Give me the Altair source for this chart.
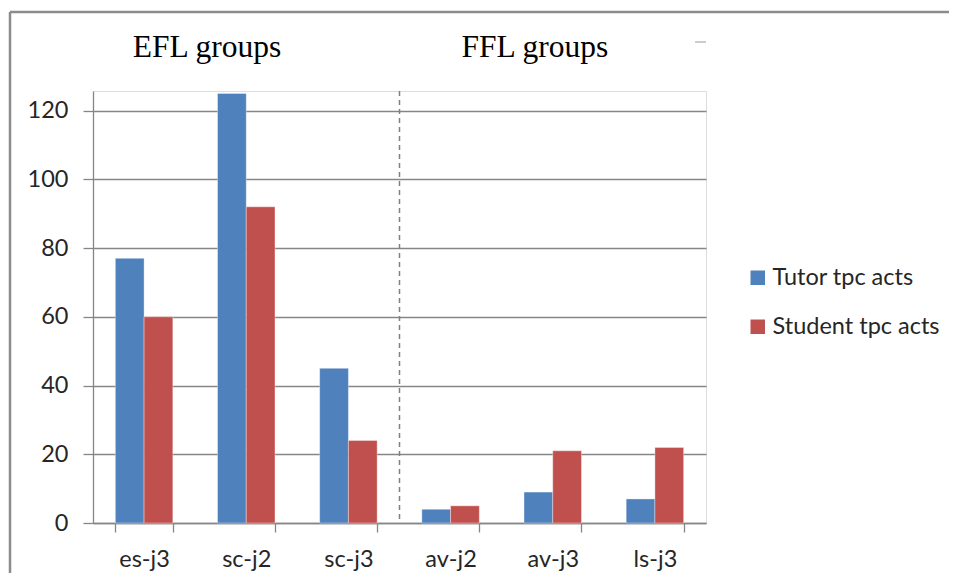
import altair as alt
import pandas as pd

categories = ["es-j3", "sc-j2", "sc-j3", "av-j2", "av-j3", "ls-j3"]
series_names = ["Tutor tpc acts", "Student tpc acts"]
tutor_values = [77, 125, 45, 4, 9, 7]
student_values = [60, 92, 24, 5, 21, 22]
y_ticks = [0, 20, 40, 60, 80, 100, 120]
group_titles = ["EFL groups", "FFL groups"]
colors = ["#4F81BD", "#C0504D"]

rows = []
for c, t, s in zip(categories, tutor_values, student_values):
    rows.append({"cat": c, "series": series_names[0], "value": t})
    rows.append({"cat": c, "series": series_names[1], "value": s})
df = pd.DataFrame(rows)

W, H = 613, 432
PI = 0.4375
STEP = W / len(categories)
grid = "#868686"
label_font = "Lato"
FS = 23.5

xscale = alt.Scale(domain=categories, paddingInner=PI, paddingOuter=PI / 2)
yscale = alt.Scale(domain=[0, 125.7], nice=False)

bars = alt.Chart(df).mark_bar(stroke="white", strokeWidth=0.6, strokeOpacity=0.6).encode(
    x=alt.X("cat:N", scale=xscale, sort=categories, title=None,
            axis=alt.Axis(tickBand="extent", labelAngle=0, grid=False,
                          domainColor=grid, tickColor=grid, tickSize=9,
                          labelFont=label_font, labelFontSize=FS, labelColor="#262626",
                          labelPadding=15, domainWidth=1.3, tickWidth=1.3)),
    xOffset=alt.XOffset("series:N", sort=series_names,
                        scale=alt.Scale(paddingInner=0, paddingOuter=0)),
    y=alt.Y("value:Q", scale=yscale, title=None,
            axis=alt.Axis(values=y_ticks, grid=True, gridColor=grid, gridWidth=1.3,
                          domainColor=grid, tickColor=grid, tickSize=10,
                          domainWidth=1.3, tickWidth=1.3,
                          labelFont=label_font, labelFontSize=FS, labelColor="#262626",
                          labelPadding=15)),
    color=alt.Color("series:N", sort=series_names,
                    scale=alt.Scale(domain=series_names, range=colors),
                    legend=alt.Legend(title=None, orient="none", legendX=653, legendY=175,
                                      symbolType="square", symbolSize=210,
                                      symbolStrokeWidth=0, labelLimit=400,
                                      labelFont=label_font, labelFontSize=FS,
                                      labelColor="#262626", labelOffset=3,
                                      rowPadding=24)),
)

divider = alt.Chart(pd.DataFrame({"v": [categories[3]]})).mark_rule(
    color="#808080", strokeDash=[5, 4], strokeWidth=1.5, xOffset=-(PI / 2) * STEP
).encode(
    x=alt.X("v:N", scale=xscale, sort=categories, bandPosition=0),
    y=alt.Y(datum=125.7),
    y2=alt.Y2(datum=0),
)

titles_df = pd.DataFrame({"t": group_titles, "c": [categories[1], categories[4]]})
t1 = alt.Chart(titles_df.iloc[[0]]).mark_text(
    font="Liberation Serif", fontSize=31.5, color="#000000", baseline="alphabetic",
    align="center", dx=-10.5
).encode(
    x=alt.X("c:N", scale=xscale, sort=categories, bandPosition=0),
    y=alt.value(-34.5),
    text="t:N",
)
t2 = alt.Chart(titles_df.iloc[[1]]).mark_text(
    font="Liberation Serif", fontSize=31.5, color="#000000", baseline="alphabetic", align="center"
).encode(
    x=alt.X("c:N", scale=xscale, sort=categories, bandPosition=0.19),
    y=alt.value(-34.5),
    text="t:N",
)

dash = alt.Chart(pd.DataFrame({"a": [0]})).mark_rule(color="#999999", strokeWidth=1).encode(
    x=alt.value(602), x2=alt.value(613), y=alt.value(-49)
)

border_top = alt.Chart(pd.DataFrame({"a": [0]})).mark_rule(color="#8c8c8c", strokeWidth=2.5).encode(
    x=alt.value(-83), x2=alt.value(860), y=alt.value(-79)
)
border_left = alt.Chart(pd.DataFrame({"a": [0]})).mark_rule(color="#8c8c8c", strokeWidth=2.5).encode(
    x=alt.value(-83), y=alt.value(-79), y2=alt.value(490)
)

chart = alt.layer(border_top, border_left, bars, divider, t1, t2, dash).properties(
    width=W, height=H,
    autosize=alt.AutoSizeParams(type="none"),
    padding={"left": 85, "top": 83, "right": 243, "bottom": 50},
).configure_view(stroke=None).configure(background="white")

chart.save("out.html", embed_options={"renderer": "svg", "actions": False})
